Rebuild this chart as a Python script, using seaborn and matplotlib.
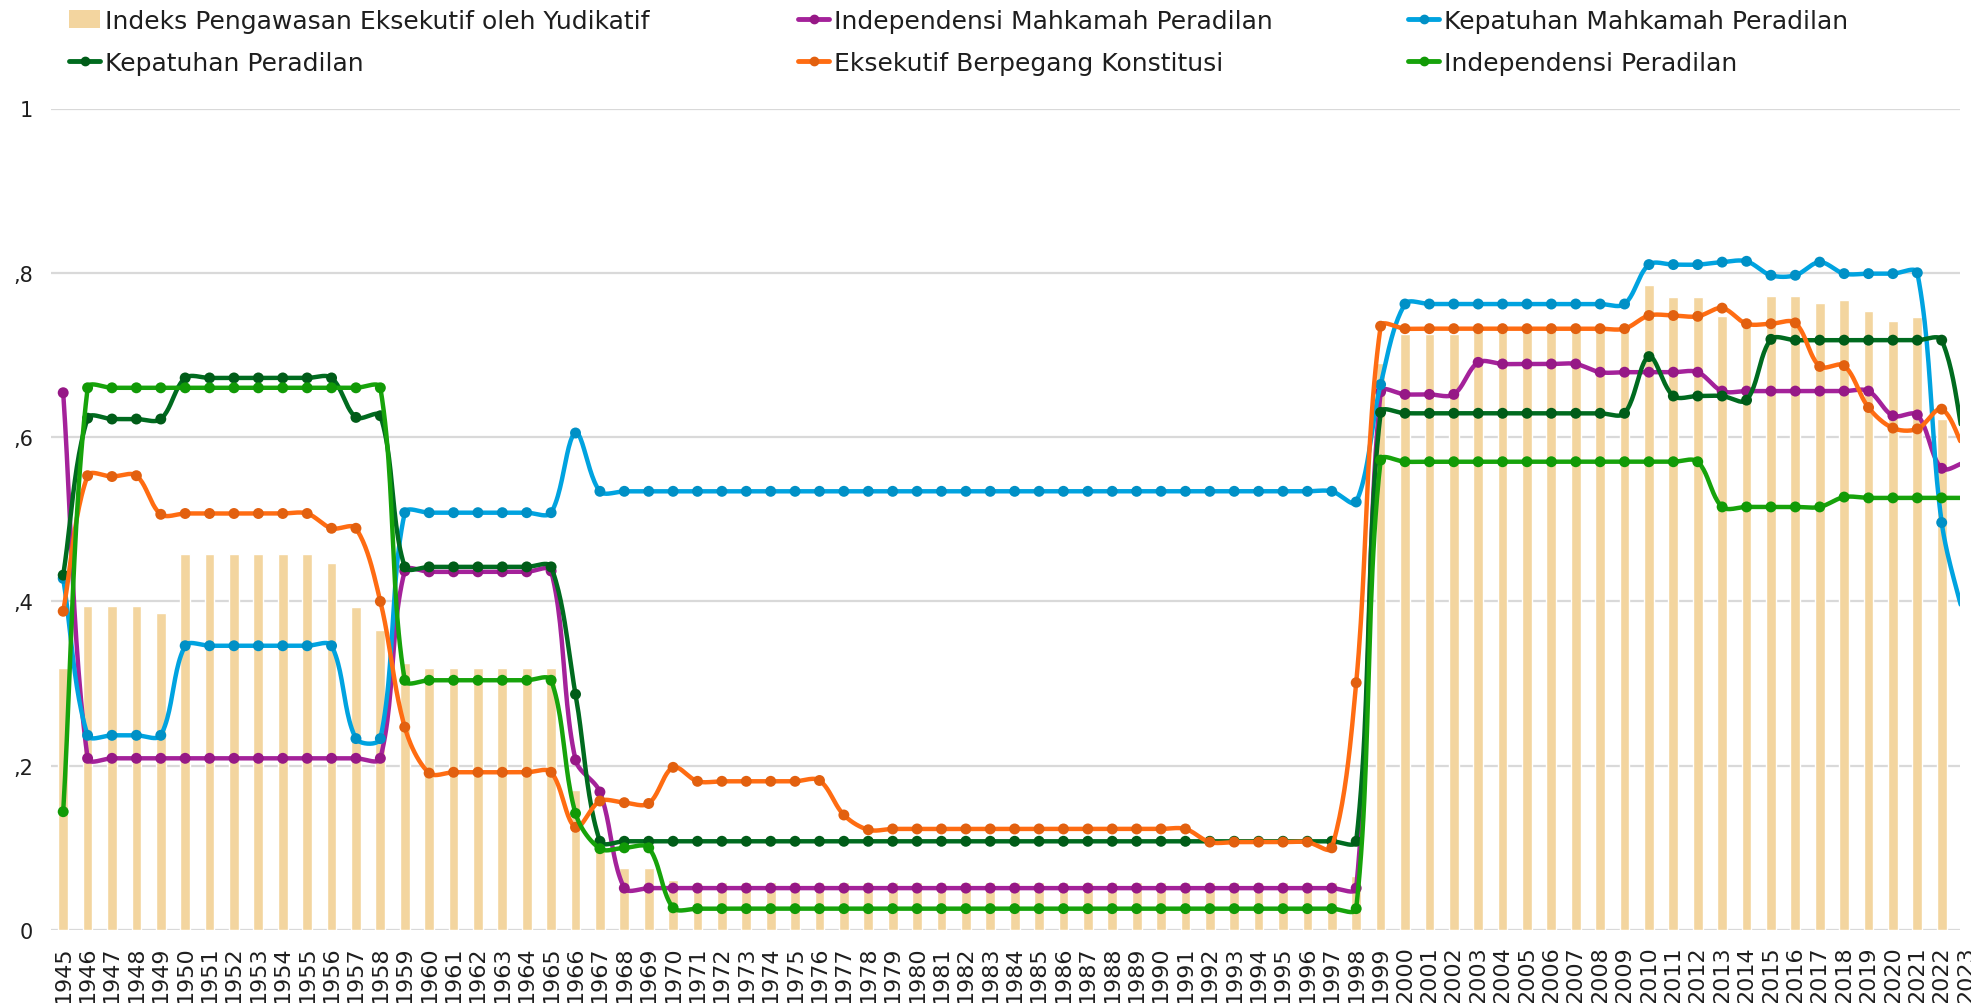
import numpy as np
import pandas as pd
import matplotlib
matplotlib.use("Agg")
import matplotlib.pyplot as plt
import seaborn as sns
from matplotlib.lines import Line2D
from matplotlib.patches import Patch

# -------------------------
# Data
# -------------------------
years = [str(y) for y in range(1945, 2024)]

indeks_pengawasan = [
    0.319, 0.394, 0.394, 0.394, 0.386, 0.458, 0.458, 0.458, 0.458, 0.458,
    0.458, 0.447, 0.393, 0.365, 0.325, 0.319, 0.319, 0.319, 0.319, 0.319,
    0.319, 0.170, 0.100, 0.076, 0.076, 0.061, 0.058, 0.058, 0.058, 0.058,
    0.058, 0.058, 0.058, 0.058, 0.058, 0.058, 0.058, 0.058, 0.058, 0.058,
    0.058, 0.058, 0.058, 0.058, 0.058, 0.058, 0.058, 0.058, 0.058, 0.058,
    0.058, 0.058, 0.058, 0.066, 0.690, 0.725, 0.725, 0.725, 0.730, 0.730,
    0.730, 0.730, 0.730, 0.730, 0.730, 0.785, 0.770, 0.770, 0.748, 0.735,
    0.772, 0.772, 0.763, 0.767, 0.754, 0.741, 0.746, 0.622, 0.600,
]

indep_mahkamah = [
    0.654, 0.209, 0.209, 0.209, 0.209, 0.209, 0.209, 0.209, 0.209, 0.209,
    0.209, 0.209, 0.209, 0.209, 0.437, 0.436, 0.436, 0.436, 0.436, 0.436,
    0.437, 0.207, 0.168, 0.051, 0.051, 0.051, 0.051, 0.051, 0.051, 0.051,
    0.051, 0.051, 0.051, 0.051, 0.051, 0.051, 0.051, 0.051, 0.051, 0.051,
    0.051, 0.051, 0.051, 0.051, 0.051, 0.051, 0.051, 0.051, 0.051, 0.051,
    0.051, 0.051, 0.051, 0.051, 0.655, 0.652, 0.652, 0.652, 0.691, 0.689,
    0.689, 0.689, 0.689, 0.679, 0.679, 0.679, 0.679, 0.679, 0.656, 0.656,
    0.656, 0.656, 0.656, 0.656, 0.656, 0.626, 0.627, 0.562, 0.570,
]

kepatuhan_mahkamah = [
    0.428, 0.237, 0.237, 0.237, 0.237, 0.346, 0.346, 0.346, 0.346, 0.346,
    0.346, 0.346, 0.233, 0.233, 0.508, 0.508, 0.508, 0.508, 0.508, 0.508,
    0.508, 0.605, 0.534, 0.534, 0.534, 0.534, 0.534, 0.534, 0.534, 0.534,
    0.534, 0.534, 0.534, 0.534, 0.534, 0.534, 0.534, 0.534, 0.534, 0.534,
    0.534, 0.534, 0.534, 0.534, 0.534, 0.534, 0.534, 0.534, 0.534, 0.534,
    0.534, 0.534, 0.534, 0.521, 0.664, 0.762, 0.762, 0.762, 0.762, 0.762,
    0.762, 0.762, 0.762, 0.762, 0.762, 0.810, 0.810, 0.810, 0.813, 0.814,
    0.797, 0.797, 0.813, 0.799, 0.799, 0.799, 0.800, 0.496, 0.370,
]

kepatuhan_peradilan = [
    0.432, 0.623, 0.622, 0.622, 0.622, 0.672, 0.672, 0.672, 0.672, 0.672,
    0.672, 0.672, 0.624, 0.626, 0.442, 0.442, 0.442, 0.442, 0.442, 0.442,
    0.442, 0.287, 0.108, 0.108, 0.108, 0.108, 0.108, 0.108, 0.108, 0.108,
    0.108, 0.108, 0.108, 0.108, 0.108, 0.108, 0.108, 0.108, 0.108, 0.108,
    0.108, 0.108, 0.108, 0.108, 0.108, 0.108, 0.108, 0.108, 0.108, 0.108,
    0.108, 0.108, 0.108, 0.108, 0.630, 0.629, 0.629, 0.629, 0.629, 0.629,
    0.629, 0.629, 0.629, 0.629, 0.629, 0.698, 0.650, 0.650, 0.650, 0.645,
    0.719, 0.718, 0.718, 0.718, 0.718, 0.718, 0.718, 0.718, 0.580,
]

eksekutif_konstitusi = [
    0.388, 0.553, 0.552, 0.553, 0.506, 0.507, 0.507, 0.507, 0.507, 0.507,
    0.507, 0.489, 0.489, 0.400, 0.247, 0.191, 0.192, 0.192, 0.192, 0.192,
    0.192, 0.125, 0.157, 0.155, 0.154, 0.198, 0.181, 0.181, 0.181, 0.181,
    0.181, 0.182, 0.140, 0.122, 0.123, 0.123, 0.123, 0.123, 0.123, 0.123,
    0.123, 0.123, 0.123, 0.123, 0.123, 0.123, 0.123, 0.107, 0.107, 0.107,
    0.107, 0.107, 0.100, 0.301, 0.735, 0.732, 0.732, 0.732, 0.732, 0.732,
    0.732, 0.732, 0.732, 0.732, 0.732, 0.748, 0.748, 0.747, 0.757, 0.738,
    0.738, 0.739, 0.686, 0.687, 0.636, 0.611, 0.610, 0.634, 0.580,
]

indep_peradilan = [
    0.144, 0.660, 0.660, 0.660, 0.660, 0.660, 0.660, 0.660, 0.660, 0.660,
    0.660, 0.660, 0.660, 0.660, 0.304, 0.304, 0.304, 0.304, 0.304, 0.304,
    0.304, 0.142, 0.099, 0.100, 0.100, 0.027, 0.026, 0.026, 0.026, 0.026,
    0.026, 0.026, 0.026, 0.026, 0.026, 0.026, 0.026, 0.026, 0.026, 0.026,
    0.026, 0.026, 0.026, 0.026, 0.026, 0.026, 0.026, 0.026, 0.026, 0.026,
    0.026, 0.026, 0.026, 0.026, 0.572, 0.570, 0.570, 0.570, 0.570, 0.570,
    0.570, 0.570, 0.570, 0.570, 0.570, 0.570, 0.570, 0.570, 0.515, 0.515,
    0.515, 0.515, 0.515, 0.527, 0.526, 0.526, 0.526, 0.526, 0.526,
]

bar_label = "Indeks Pengawasan Eksekutif oleh Yudikatif"
series = [
    ("Independensi Mahkamah Peradilan", indep_mahkamah, "#A4229A", "#961886"),
    ("Kepatuhan Mahkamah Peradilan", kepatuhan_mahkamah, "#00A3E0", "#0090C6"),
    ("Kepatuhan Peradilan", kepatuhan_peradilan, "#006B1F", "#005C18"),
    ("Eksekutif Berpegang Konstitusi", eksekutif_konstitusi, "#FF6C12", "#E2600F"),
    ("Independensi Peradilan", indep_peradilan, "#17A30B", "#119A06"),
]
bar_color = "#F3D59F"

W, H = 1971, 1004
PX_X, PX_Y = 24.4, 821.5   # pixels per year / per unit of value


def smooth(vals, n=24):
    # Excel-like smoothed line: bezier segments, control points from
    # neighbours, weighted by segment length in screen space
    P = np.column_stack([np.arange(len(vals)) * PX_X, np.asarray(vals, float) * PX_Y])
    t = np.linspace(0, 1, n, endpoint=False)[:, None]
    out = []
    for i in range(len(P) - 1):
        p0 = P[max(i - 1, 0)]
        p1, p2 = P[i], P[i + 1]
        p3 = P[min(i + 2, len(P) - 1)]
        d01 = np.linalg.norm(p1 - p0)
        d12 = np.linalg.norm(p2 - p1)
        d23 = np.linalg.norm(p3 - p2)
        c1 = p1 + (p2 - p0) * d12 / (d01 + d12) / 3
        c2 = p2 - (p3 - p1) * d12 / (d12 + d23) / 3
        out.append((1 - t) ** 3 * p1 + 3 * (1 - t) ** 2 * t * c1
                   + 3 * (1 - t) * t ** 2 * c2 + t ** 3 * p2)
    out.append(P[-1:])
    out = np.vstack(out)
    return out[:, 0] / PX_X, out[:, 1] / PX_Y


# -------------------------
# Plot
# -------------------------
sns.set_style("white")
plt.rcParams["font.family"] = ["DejaVu Sans"]

fig = plt.figure(figsize=(W / 100, H / 100), dpi=100)
ax = fig.add_axes([51 / W, 73 / H, (1960 - 51) / W, (931 - 109.5) / H])

df = pd.DataFrame({"year": years, "value": indeks_pengawasan})
sns.barplot(data=df, x="year", y="value", color=bar_color, width=0.4,
            saturation=1, ax=ax, zorder=2)

pos = np.arange(len(years))
for k, (name, vals, lc, mc) in enumerate(series):
    sx, sy = smooth(vals)
    ax.plot(sx, sy, color=lc, lw=3.2, zorder=3 + k, solid_capstyle="round")
    sns.scatterplot(x=pos, y=vals, color=mc, s=62, edgecolor="none",
                    ax=ax, zorder=3.5 + k, legend=False)

ax.set_xlim(-0.5, 77.75)
ax.set_ylim(0, 1)
ax.set_axisbelow(True)
ax.yaxis.grid(True, color="#D9D9D9", lw=1.6)
ax.xaxis.grid(False)
for s in ax.spines.values():
    s.set_visible(False)

ax.set_yticks([0, 0.2, 0.4, 0.6, 0.8, 1.0])
ax.set_yticklabels(["0", ",2", ",4", ",6", ",8", "1"])
ax.set_xticks(pos[:-1])
ax.set_xticklabels(years[:-1], rotation=90)
ax.tick_params(axis="y", length=0, pad=13, labelsize=15, labelcolor="#1E1E1E")
ax.tick_params(axis="x", length=0, pad=11, labelsize=16, labelcolor="#1E1E1E")
# last year label sits just past the plot edge
ax.annotate(years[-1], xy=(pos[-1], 0), xycoords=ax.get_xaxis_transform(),
            xytext=(0, -11), textcoords="offset points", rotation=90,
            ha="center", va="top", fontsize=16, color="#1E1E1E",
            annotation_clip=False)
ax.set_xlabel("")
ax.set_ylabel("")

# Legend: three columns placed where the original has them
h_bar = Patch(facecolor=bar_color, edgecolor="none")
h = {name: Line2D([0], [0], color=lc, lw=3.5, marker="o", markersize=6,
                  markerfacecolor=mc, markeredgecolor=mc)
     for name, _, lc, mc in series}
columns = [
    (69, [(h_bar, bar_label), (h["Kepatuhan Peradilan"], "Kepatuhan Peradilan")]),
    (798, [(h["Independensi Mahkamah Peradilan"], "Independensi Mahkamah Peradilan"),
           (h["Eksekutif Berpegang Konstitusi"], "Eksekutif Berpegang Konstitusi")]),
    (1408, [(h["Kepatuhan Mahkamah Peradilan"], "Kepatuhan Mahkamah Peradilan"),
            (h["Independensi Peradilan"], "Independensi Peradilan")]),
]
for x0, entries in columns:
    fig.legend([e[0] for e in entries], [e[1] for e in entries],
               loc="upper left", bbox_to_anchor=(x0 / W, 1 - 10 / H),
               frameon=False, fontsize=18, handlelength=1.25, handleheight=0.75,
               handletextpad=0.2, labelspacing=0.72, borderaxespad=0.0,
               borderpad=0.0, labelcolor="#1E1E1E")

fig.savefig("out.png", dpi=100)
